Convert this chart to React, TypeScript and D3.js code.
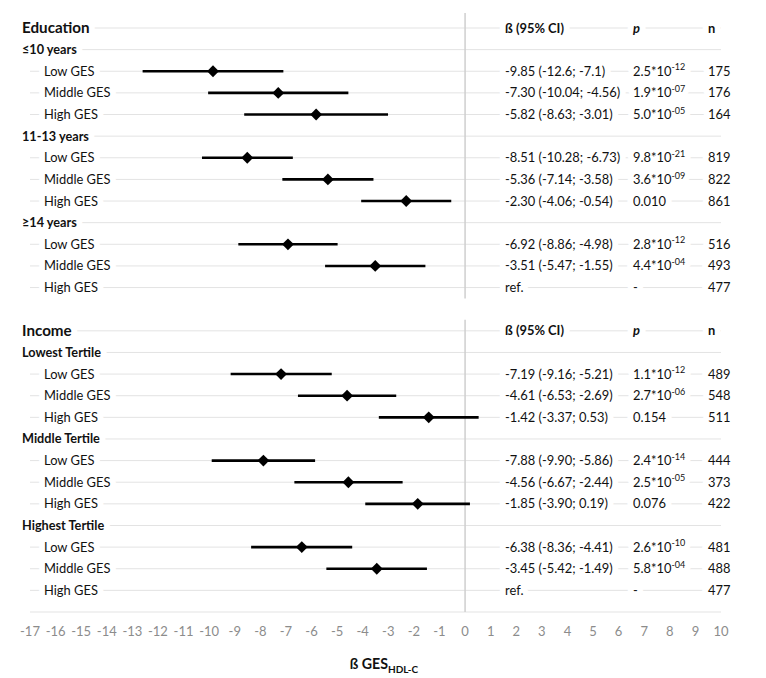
import React from "react";
import * as d3 from "d3";

const sections = ["Education", "Income"];
const eduGroups = ["≤10 years", "11-13 years", "≥14 years"];
const incGroups = ["Lowest Tertile", "Middle Tertile", "Highest Tertile"];
const gesLevels = ["Low GES", "Middle GES", "High GES"];

const eduBeta = [-9.85, -7.30, -5.82, -8.51, -5.36, -2.30, -6.92, -3.51, null];
const eduLow = [-12.6, -10.04, -8.63, -10.28, -7.14, -4.06, -8.86, -5.47, null];
const eduHigh = [-7.1, -4.56, -3.01, -6.73, -3.58, -0.54, -4.98, -1.55, null];
const eduCI = [
  "-9.85 (-12.6; -7.1)", "-7.30 (-10.04; -4.56)", "-5.82 (-8.63; -3.01)",
  "-8.51 (-10.28; -6.73)", "-5.36 (-7.14; -3.58)", "-2.30 (-4.06; -0.54)",
  "-6.92 (-8.86; -4.98)", "-3.51 (-5.47; -1.55)", "ref.",
];
const eduP = ["2.5*10^-12", "1.9*10^-07", "5.0*10^-05", "9.8*10^-21", "3.6*10^-09", "0.010", "2.8*10^-12", "4.4*10^-04", "-"];
const eduN = [175, 176, 164, 819, 822, 861, 516, 493, 477];

const incBeta = [-7.19, -4.61, -1.42, -7.88, -4.56, -1.85, -6.38, -3.45, null];
const incLow = [-9.16, -6.53, -3.37, -9.90, -6.67, -3.90, -8.36, -5.42, null];
const incHigh = [-5.21, -2.69, 0.53, -5.86, -2.44, 0.19, -4.41, -1.49, null];
const incCI = [
  "-7.19 (-9.16; -5.21)", "-4.61 (-6.53; -2.69)", "-1.42 (-3.37; 0.53)",
  "-7.88 (-9.90; -5.86)", "-4.56 (-6.67; -2.44)", "-1.85 (-3.90; 0.19)",
  "-6.38 (-8.36; -4.41)", "-3.45 (-5.42; -1.49)", "ref.",
];
const incP = ["1.1*10^-12", "2.7*10^-06", "0.154", "2.4*10^-14", "2.5*10^-05", "0.076", "2.6*10^-10", "5.8*10^-04", "-"];
const incN = [489, 548, 511, 444, 373, 422, 481, 488, 477];

const xTicks = d3.range(-17, 11);
const colHeaders = ["ß (95% CI)", "p", "n"];

const W = 766;
const H = 678;
const FONT = "Lato, 'Open Sans', sans-serif";
const GRID = "#e3e3e3";
const FS = 12.9;

type Row = {
  kind: "section" | "group" | "data" | "blank";
  label: string;
  beta?: number | null;
  lo?: number | null;
  hi?: number | null;
  ci?: string;
  p?: string;
  n?: number;
};

function buildRows(): Row[] {
  const rows: Row[] = [];
  const blocks = [
    { title: sections[0], groups: eduGroups, beta: eduBeta, lo: eduLow, hi: eduHigh, ci: eduCI, p: eduP, n: eduN },
    { title: sections[1], groups: incGroups, beta: incBeta, lo: incLow, hi: incHigh, ci: incCI, p: incP, n: incN },
  ];
  blocks.forEach((b, bi) => {
    if (bi > 0) rows.push({ kind: "blank", label: "" });
    rows.push({ kind: "section", label: b.title });
    b.groups.forEach((g, gi) => {
      rows.push({ kind: "group", label: g });
      gesLevels.forEach((lv, li) => {
        const i = gi * 3 + li;
        rows.push({ kind: "data", label: lv, beta: b.beta[i], lo: b.lo[i], hi: b.hi[i], ci: b.ci[i], p: b.p[i], n: b.n[i] });
      });
    });
  });
  return rows;
}

const rows = buildRows();

const x = d3.scaleLinear().domain([-17, 10]).range([30, 721]);
const y = d3.scaleLinear().domain([0, 27]).range([28, 612]);

const colX = [505, 633, 708];

function HText({ children, ...props }: any) {
  return (
    <g>
      <text {...props} dy="0.35em" fill="#fff" stroke="#fff" strokeWidth={12} strokeLinejoin="round">
        {children}
      </text>
      <text {...props} dy="0.35em" fill="#111">
        {children}
      </text>
    </g>
  );
}

function pContent(s: string) {
  const parts = s.split("^");
  return (
    <>
      {parts[0]}
      {parts[1] ? (
        <tspan fontSize={9} dy="-0.6em">{parts[1]}</tspan>
      ) : null}
    </>
  );
}

export default function App() {
  const diamond = d3.symbol(d3.symbolSquare, 70)();
  const sectionRows = rows.map((r, i) => (r.kind === "section" ? i : -1)).filter((i) => i >= 0);
  const lastEdu = sectionRows[1] - 2;
  const axisRow = rows.length;

  return (
    <svg width={W} height={H} style={{ position: "absolute", left: 0, top: 0, background: "#fff", fontFamily: FONT }}>
      {/* gridlines */}
      {rows.map((r, i) =>
        r.kind === "blank" ? null : (
          <line key={"g" + i} x1={x(-17)} x2={x(10)} y1={y(i)} y2={y(i)} stroke={GRID} strokeWidth={1} />
        )
      )}
      <line x1={x(-17)} x2={x(10)} y1={y(axisRow)} y2={y(axisRow)} stroke={GRID} strokeWidth={1} />
      {/* zero lines */}
      <line x1={x(0)} x2={x(0)} y1={y(sectionRows[0]) - 15} y2={y(lastEdu) + 11} stroke="#cfcfcf" strokeWidth={1.5} />
      <line x1={x(0)} x2={x(0)} y1={y(sectionRows[1]) - 11} y2={y(axisRow)} stroke="#cfcfcf" strokeWidth={1.5} />

      {/* labels */}
      {rows.map((r, i) => {
        if (r.kind === "blank") return null;
        if (r.kind === "section")
          return (
            <g key={"l" + i}>
              <HText x={22} y={y(i)} fontSize={15.2} fontWeight={700}>{r.label}</HText>
              <HText x={colX[0]} y={y(i)} fontSize={FS} fontWeight={700}>{colHeaders[0]}</HText>
              <HText x={colX[1]} y={y(i)} fontSize={FS} fontWeight={700} fontStyle="italic">{colHeaders[1]}</HText>
              <HText x={colX[2]} y={y(i)} fontSize={FS} fontWeight={700}>{colHeaders[2]}</HText>
            </g>
          );
        if (r.kind === "group")
          return (
            <HText key={"l" + i} x={22} y={y(i)} fontSize={12.7} fontWeight={700}>{r.label}</HText>
          );
        return (
          <g key={"l" + i}>
            <HText x={44} y={y(i)} fontSize={FS}>{r.label}</HText>
            <HText x={colX[0]} y={y(i)} fontSize={FS}>{r.ci}</HText>
            <HText x={colX[1]} y={y(i)} fontSize={FS}>{pContent(r.p || "")}</HText>
            <HText x={colX[2]} y={y(i)} fontSize={FS}>{r.n}</HText>
          </g>
        );
      })}

      {/* CI marks */}
      {rows.map((r, i) =>
        r.kind === "data" && r.beta != null ? (
          <g key={"m" + i}>
            <line x1={x(r.lo as number)} x2={x(r.hi as number)} y1={y(i)} y2={y(i)} stroke="#000" strokeWidth={2.6} />
            <path d={diamond as string} transform={`translate(${x(r.beta)},${y(i)}) rotate(45)`} fill="#000" />
          </g>
        ) : null
      )}

      {/* x ticks */}
      {xTicks.map((t) => (
        <text key={"t" + t} x={x(t)} y={631} dy="0.35em" textAnchor="middle" fontSize={13} fill="#8c8c8c">{t}</text>
      ))}

      {/* x title */}
      <text x={384} y={664} dy="0.35em" textAnchor="middle" fontSize={14.2} fontWeight={700} fill="#111">
        ß GES<tspan fontSize={10} dy="0.45em">HDL-C</tspan>
      </text>
    </svg>
  );
}
